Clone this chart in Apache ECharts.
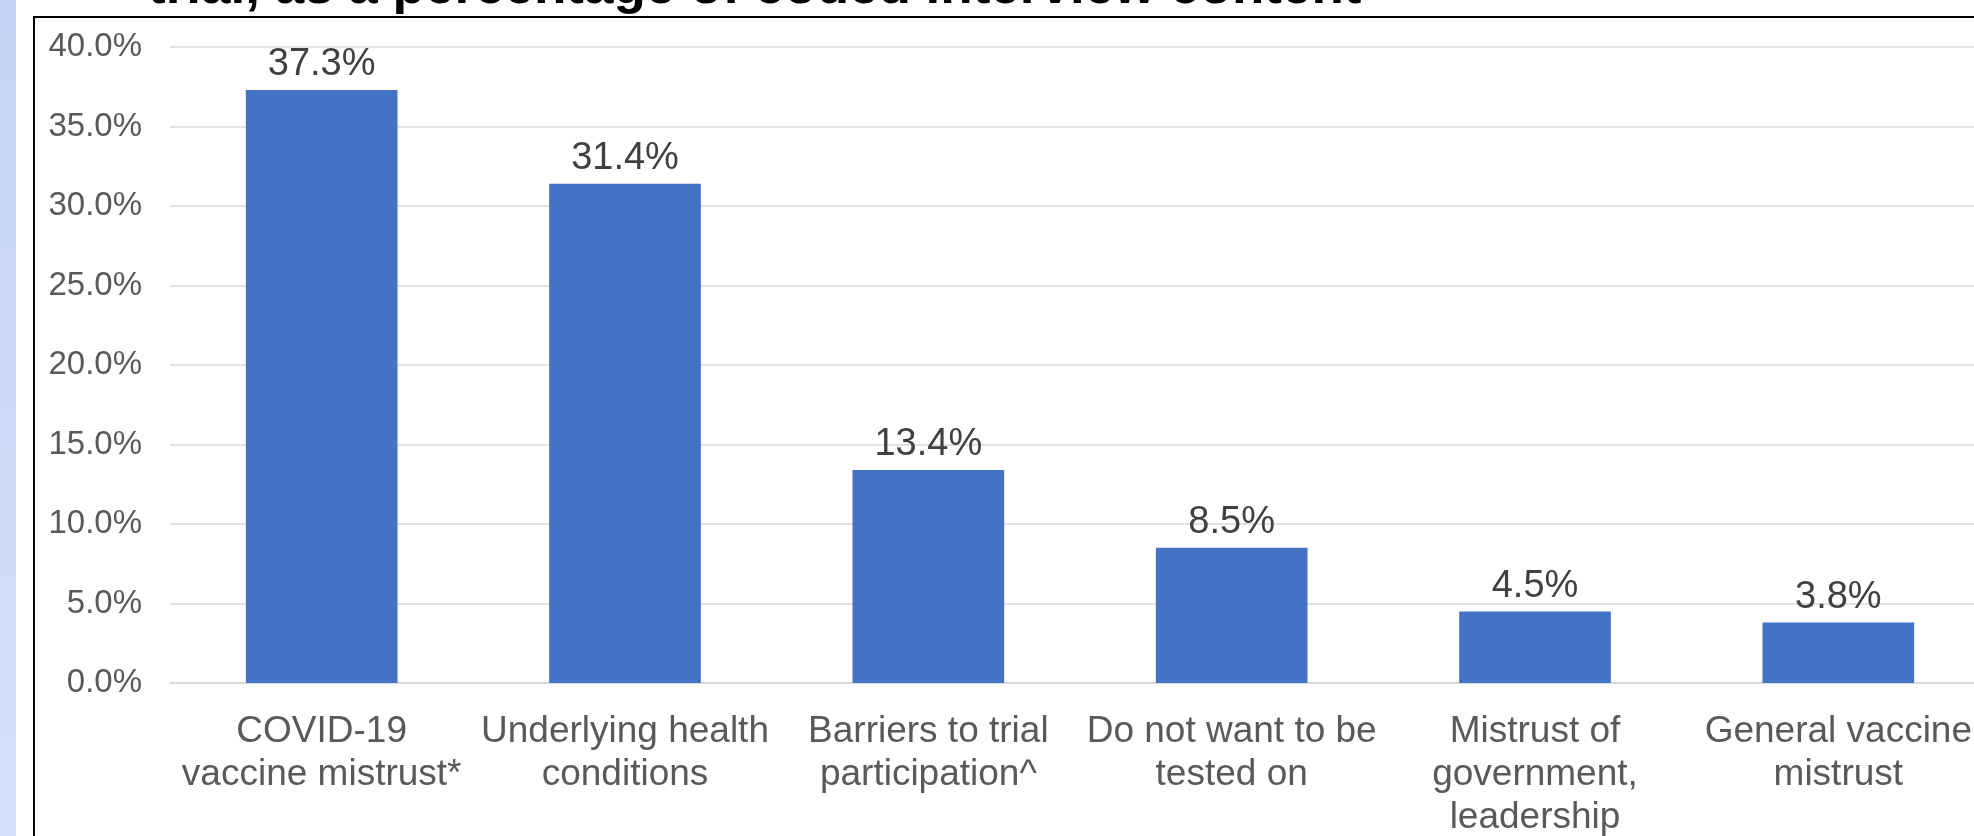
<!DOCTYPE html>
<html>
<head>
<meta charset="utf-8">
<script src="https://cdn.jsdelivr.net/npm/echarts@6/dist/echarts.min.js"></script>
<style>
  html, body { margin: 0; padding: 0; background: #fff; }
  #chart { width: 1974px; height: 836px; }
</style>
</head>
<body>
<div id="chart"></div>
<script>
// reasons for not joining the trial (cut-off slide title above the frame)
const titleText = "trial, as a percentage of coded interview content";

const categories = [
  "COVID-19\nvaccine mistrust*",
  "Underlying health\nconditions",
  "Barriers to trial\nparticipation^",
  "Do not want to be\ntested on",
  "Mistrust of\ngovernment,\nleadership",
  "General vaccine\nmistrust"
];
const values = [37.3, 31.4, 13.4, 8.5, 4.5, 3.8];
const yTicks = [0, 5, 10, 15, 20, 25, 30, 35, 40];

const font = "Liberation Sans, Arial, sans-serif";

var dom = document.getElementById("chart");
var myChart = echarts.init(dom);

var option = {
  backgroundColor: "#fff",
  animation: false,
  grid: {
    left: 170,
    top: 47,
    width: 1820,
    height: 636,
    outerBoundsMode: "none"
  },
  graphic: [
    {
      // light blue slide strip on the left
      type: "rect",
      shape: { x: 0, y: 0, width: 16, height: 836 },
      style: {
        fill: {
          type: "linear", x: 0, y: 0, x2: 0, y2: 1,
          colorStops: [
            { offset: 0, color: "#c6d3f4" },
            { offset: 1, color: "#d6dff9" }
          ]
        }
      },
      z: 0
    },
    {
      // chart frame
      type: "rect",
      shape: { x: 34, y: 17, width: 2000, height: 900 },
      style: { fill: "none", stroke: "#000", lineWidth: 2 },
      z: 0
    },
    {
      type: "text",
      x: 148,
      y: 15,
      style: {
        text: titleText,
        font: "bold 53px " + font,
        fill: "#000",
        align: "left",
        verticalAlign: "bottom"
      },
      z: 0
    }
  ],
  xAxis: {
    type: "category",
    data: categories,
    axisTick: { show: false },
    axisLine: { lineStyle: { color: "#d9d9d9", width: 1.5 } },
    axisLabel: {
      interval: 0,
      margin: 27,
      color: "#595959",
      fontFamily: font,
      fontSize: 37,
      lineHeight: 43
    }
  },
  yAxis: {
    type: "value",
    min: yTicks[0],
    max: yTicks[yTicks.length - 1],
    interval: 5,
    axisLine: { show: false },
    axisTick: { show: false },
    splitLine: { lineStyle: { color: "#d9d9d9", width: 1.5 } },
    axisLabel: {
      margin: 28,
      color: "#595959",
      fontFamily: font,
      fontSize: 33,
      formatter: function (v) {
        return v.toFixed(1) + "%";
      }
    }
  },
  series: [
    {
      type: "bar",
      data: values,
      barWidth: "50%",
      itemStyle: { color: "#4472c4" },
      label: {
        show: true,
        position: "top",
        distance: 6,
        color: "#404040",
        fontFamily: font,
        fontSize: 38,
        formatter: function (p) {
          return p.value.toFixed(1) + "%";
        }
      }
    }
  ]
};

myChart.setOption(option, true);
</script>
</body>
</html>
